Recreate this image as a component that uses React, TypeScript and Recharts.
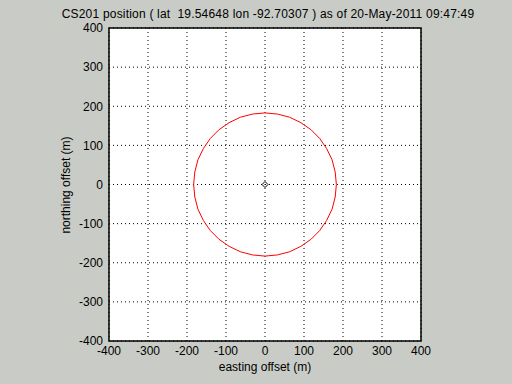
import { LineChart, Line, XAxis, YAxis, CartesianGrid, Scatter, ReferenceArea } from 'recharts';

// axis ticks (m)
const ticks = [-400, -300, -200, -100, 0, 100, 200, 300, 400];

// red circle, points (radius ~183 m)
const circle = [
  { x: 183, y: 0 }, { x: 180, y: 32 }, { x: 172, y: 63 }, { x: 158, y: 92 },
  { x: 140, y: 118 }, { x: 118, y: 140 }, { x: 92, y: 158 }, { x: 63, y: 172 },
  { x: 32, y: 180 }, { x: 0, y: 183 }, { x: -32, y: 180 }, { x: -63, y: 172 },
  { x: -92, y: 158 }, { x: -118, y: 140 }, { x: -140, y: 118 }, { x: -158, y: 92 },
  { x: -172, y: 63 }, { x: -180, y: 32 }, { x: -183, y: 0 }, { x: -180, y: -32 },
  { x: -172, y: -63 }, { x: -158, y: -92 }, { x: -140, y: -118 }, { x: -118, y: -140 },
  { x: -92, y: -158 }, { x: -63, y: -172 }, { x: -32, y: -180 }, { x: 0, y: -183 },
  { x: 32, y: -180 }, { x: 63, y: -172 }, { x: 92, y: -158 }, { x: 118, y: -140 },
  { x: 140, y: -118 }, { x: 158, y: -92 }, { x: 172, y: -63 }, { x: 180, y: -32 },
  { x: 183, y: 0 },
];

// station position
const station = [{ x: 0, y: 0 }];

const font = '"Liberation Sans", Arial, sans-serif';
const tickStyle = { fill: '#000', fontSize: 12, fontFamily: font };

const Diamond = (props: any) => {
  const { cx, cy } = props;
  if (cx == null || cy == null) return null;
  return (
    <polygon
      points={`${cx},${cy - 3} ${cx + 3},${cy} ${cx},${cy + 3} ${cx - 3},${cy}`}
      fill="none"
      stroke="#000"
      strokeWidth={1}
    />
  );
};

export default function App() {
  return (
    <div style={{ position: 'fixed', left: 0, top: 0, width: 512, height: 384, background: '#c9ccc6', fontFamily: font, color: '#000' }}>
      <div
        style={{
          position: 'absolute', top: 8, left: 268, transform: 'translateX(-50%)',
          fontSize: 12, lineHeight: '12px', letterSpacing: 0.2, whiteSpace: 'pre',
        }}
      >
        {'CS201 position ( lat  19.54648 lon -92.70307 ) as of 20-May-2011 09:47:49'}
      </div>
      <LineChart width={512} height={384} margin={{ top: 28, right: 91, bottom: 23, left: 69 }}>
        <CartesianGrid fill="#fff" stroke="#000" strokeDasharray="1 3" horizontalValues={ticks} verticalValues={ticks} />
        <XAxis
          type="number"
          dataKey="x"
          domain={[-400, 400]}
          ticks={ticks}
          height={20}
          axisLine={false}
          tickLine={false}
          tickSize={3}
          tickMargin={2}
          tick={tickStyle}
          allowDataOverflow
        />
        <YAxis
          type="number"
          dataKey="y"
          domain={[-400, 400]}
          ticks={ticks}
          width={40}
          axisLine={false}
          tickLine={false}
          tickSize={4}
          tickMargin={2}
          tick={tickStyle}
          allowDataOverflow
        />
        <ReferenceArea x1={-400} x2={400} y1={-400} y2={400} fill="none" fillOpacity={0} stroke="#000" strokeWidth={1.5} ifOverflow="visible" />
        <Line data={circle} dataKey="y" stroke="#ff0000" strokeWidth={1} dot={false} isAnimationActive={false} />
        <Scatter data={station} dataKey="y" shape={<Diamond />} isAnimationActive={false} />
      </LineChart>
      <div style={{ position: 'absolute', top: 360, left: 165, width: 200, textAlign: 'center', fontSize: 12 }}>
        easting offset (m)
      </div>
      <div style={{ position: 'absolute', top: 178, left: 6, width: 120, textAlign: 'center', fontSize: 12, transform: 'rotate(-90deg)' }}>
        northing offset (m)
      </div>
    </div>
  );
}
